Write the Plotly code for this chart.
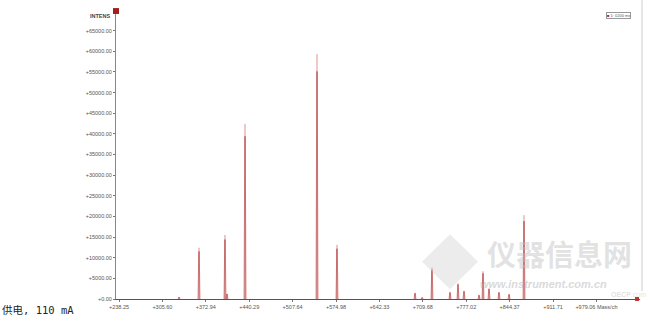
import plotly.graph_objects as go

# ---- data ----
peak_mz = [331.4, 362.4, 402.7, 405.8, 433.8, 545.5, 576.5, 697.6, 708.5, 723.9,
           751.9, 764.3, 773.6, 796.9, 803.1, 812.4, 827.9, 843.5, 866.7]
peak_int = [500, 12400, 15500, 1300, 42400, 59300, 13100, 1500, 400, 7600,
            1700, 3800, 2000, 1000, 6700, 2600, 1700, 1200, 20300]

x_tickvals = [238.25, 305.60, 372.94, 440.29, 507.64, 574.98, 642.33, 709.68,
              777.02, 844.37, 911.71, 979.06]
x_ticktext = ["+238.25", "+305.60", "+372.94", "+440.29", "+507.64", "+574.98",
              "+642.33", "+709.68", "+777.02", "+844.37", "+911.71", "+979.06 Mass/ch"]
y_tickvals = [0, 5000, 10000, 15000, 20000, 25000, 30000, 35000, 40000, 45000,
              50000, 55000, 60000, 65000]
y_ticktext = ["+%d.00" % v for v in y_tickvals]

legend_label = "1: 0200 ms"
caption = "供电, 110 mA"

# ---- build traces ----
HW = 1.9  # half base width of a peak (style)
env_x, env_y, stick_x, stick_y = [], [], [], []
for c, h in zip(peak_mz, peak_int):
    env_x += [c - HW, c, c + HW, None]
    env_y += [0, h, 0, None]
    stick_x += [c, c, None]
    stick_y += [0, h * 0.93, None]

fig = go.Figure()
fig.add_trace(go.Scatter(x=env_x, y=env_y, mode="lines",
                         line=dict(color="#eab6b6", width=1),
                         hoverinfo="skip", showlegend=False))
fig.add_trace(go.Scatter(x=stick_x, y=stick_y, mode="lines",
                         line=dict(color="#aa2a2a", width=1),
                         hoverinfo="skip", showlegend=False))

W, H = 656, 322
L, R, T, B = 116, 16, 12, 18
pw, ph = W - L - R, H - T - B


def px(xp):
    return (xp - L) / pw


def py(yp):
    return (H - B - yp) / ph


fig.update_layout(
    width=W, height=H,
    margin=dict(l=L, r=R, t=T, b=B, pad=0),
    paper_bgcolor="white", plot_bgcolor="white",
    showlegend=False,
    font=dict(family="Arial, Liberation Sans", color="#555555"),
    xaxis=dict(range=[233.6, 1046.7], tickvals=x_tickvals, ticktext=x_ticktext,
               showgrid=False, zeroline=False, showline=True,
               linecolor="#555555", linewidth=1, ticks="outside", ticklen=2,
               tickcolor="#777777", tickfont=dict(size=5.5, color="#555555"),
               fixedrange=True),
    yaxis=dict(range=[0, 69520], tickvals=y_tickvals, ticktext=y_ticktext,
               showgrid=False, zeroline=False, showline=True,
               linecolor="#888888", linewidth=1, ticks="outside", ticklen=2,
               tickcolor="#777777", tickfont=dict(size=5.5, color="#555555"),
               fixedrange=True),
)

anns = [
    dict(text="<b>INTENS</b>", x=px(113), y=py(16), xanchor="right", yanchor="middle",
         font=dict(size=5.5, color="#444444")),
    dict(text='<span style="color:#a02020">■</span> ' + legend_label,
         x=px(606), y=py(16), xanchor="left", yanchor="middle",
         font=dict(size=4, color="#555555"), bordercolor="#999999", borderwidth=1,
         borderpad=0, bgcolor="white"),
    dict(text=caption, x=px(0), y=py(315), xanchor="left", yanchor="middle",
         font=dict(size=10.5, color="#222222",
                   family="DejaVu Sans Mono, Noto Sans CJK SC")),
    # watermark
    dict(text="<b>仪器信息网</b>", x=px(485), y=py(257), xanchor="left", yanchor="middle",
         font=dict(size=29, color="rgba(190,190,190,0.45)", family="Noto Sans CJK SC")),
    dict(text="<i><b>www.instrument.com.cn</b></i>", x=px(478), y=py(289),
         xanchor="left", yanchor="middle",
         font=dict(size=11, color="rgba(180,180,180,0.5)", family="Arial")),
    dict(text="<b>OECP</b>.com", x=px(609), y=py(299), xanchor="left", yanchor="middle",
         font=dict(size=7, color="rgba(200,200,200,0.55)", family="Arial")),
]
for a in anns:
    a.update(xref="paper", yref="paper", showarrow=False)
fig.update_layout(annotations=anns)

shapes = [
    # red marker at top of y-axis
    dict(type="rect", xref="paper", yref="paper", x0=px(113), x1=px(119),
         y0=py(14), y1=py(8), fillcolor="#a02020", line=dict(width=0)),
    # red marker at end of x-axis
    dict(type="rect", xref="paper", yref="paper", x0=px(635), x1=px(639),
         y0=py(306), y1=py(302), fillcolor="#c03030", line=dict(width=0)),
    # right frame line
    dict(type="line", xref="paper", yref="paper", x0=px(642), x1=px(642),
         y0=py(296), y1=py(0), line=dict(color="#cccccc", width=1)),
    # watermark logo (diamond)
    dict(type="path", xref="paper", yref="paper",
         path="M %f %f L %f %f L %f %f L %f %f Z" % (px(450), py(238), px(478), py(266),
                                                    px(450), py(294), px(422), py(266)),
         fillcolor="rgba(200,200,200,0.35)", line=dict(width=0)),
]
fig.update_layout(shapes=shapes)

fig.write_html("out.html")
